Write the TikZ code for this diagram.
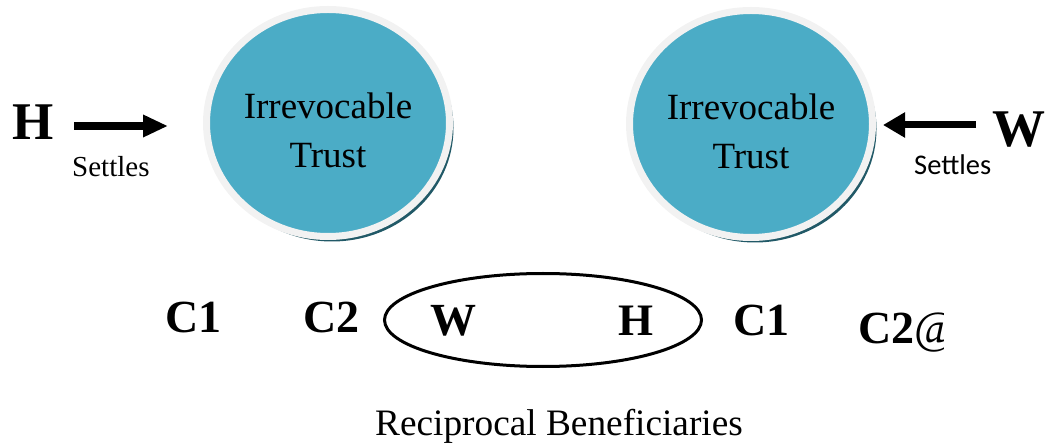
\documentclass[tikz,border=0pt]{standalone}
\usepackage{fontspec}
\setmainfont{Liberation Serif}
\newfontfamily\calibri{Carlito}
\usetikzlibrary{arrows.meta,shapes.geometric,shadows}
\definecolor{teal1}{HTML}{4BACC6}
\definecolor{rim}{HTML}{F2F2F2}
\definecolor{shade}{HTML}{215967}
\tikzset{
  trust/.style={ellipse, fill=teal1, draw=rim, line width=7pt, minimum width=243pt, minimum height=227pt, inner sep=0pt,
    drop shadow={shadow xshift=4pt, shadow yshift=-5pt, fill=shade, opacity=1},
    label={[yshift=-7pt, align=center, font=\fontsize{37}{49}\selectfont]center:#1}},
  lbl/.style={anchor=base west, inner sep=0pt},
  big/.style={lbl, font=\fontsize{53}{56}\selectfont\bfseries},
  mid/.style={lbl, font=\fontsize{46}{50}\selectfont\bfseries},
  bigarrow/.style={line width=8pt, -{Triangle[length=25pt,width=21pt]}},
}
\begin{document}
\begin{tikzpicture}[x=1pt,y=-1pt]
\clip (0,0) rectangle (1046,443);
\node[trust={Irrevocable\\Trust}] (t1) at (328,123) {};
\node[trust={Irrevocable\\Trust}] (t2) at (751,124) {};
\node[big] (hL) at (12,140) {H};
\node[big] (wR) at (992,147) {W};
\node[lbl, font=\fontsize{29}{32}\selectfont] (s1) at (72,177) {Settles};
\node[lbl, font=\calibri\fontsize{28.5}{32}\selectfont] (s2) at (914,175) {Settles};
\coordinate (a1s) at (74,126);
\coordinate (a1e) at (168,126);
\coordinate (a2s) at (976,125);
\coordinate (a2e) at (883,125);
\draw[bigarrow] (a1s) -- (a1e);
\draw[bigarrow, line width=7pt, -{Triangle[length=22pt,width=24pt]}] (a2s) -- (a2e);
\node[ellipse, draw, line width=3pt, minimum width=317pt, minimum height=93pt] (rb) at (543,320) {};
\node[mid] (c1l) at (165,333) {C1};
\node[mid] (c2l) at (303,333) {C2};
\node[mid, font=\fontsize{46}{50}\selectfont\bfseries] (w) at (430,335) {W};
\node[mid, font=\fontsize{45}{50}\selectfont\bfseries] (h) at (618,335) {H};
\node[mid] (c1r) at (733,335) {C1};
\begin{scope}
\clip (850,290) rectangle (943,370);
\node[mid] (c2r) at (858,343) {C2{\mdseries @}};
\end{scope}
\node[lbl, font=\fontsize{37.3}{40}\selectfont] (rbl) at (375,435) {Reciprocal Beneficiaries};
\end{tikzpicture}
\end{document}
